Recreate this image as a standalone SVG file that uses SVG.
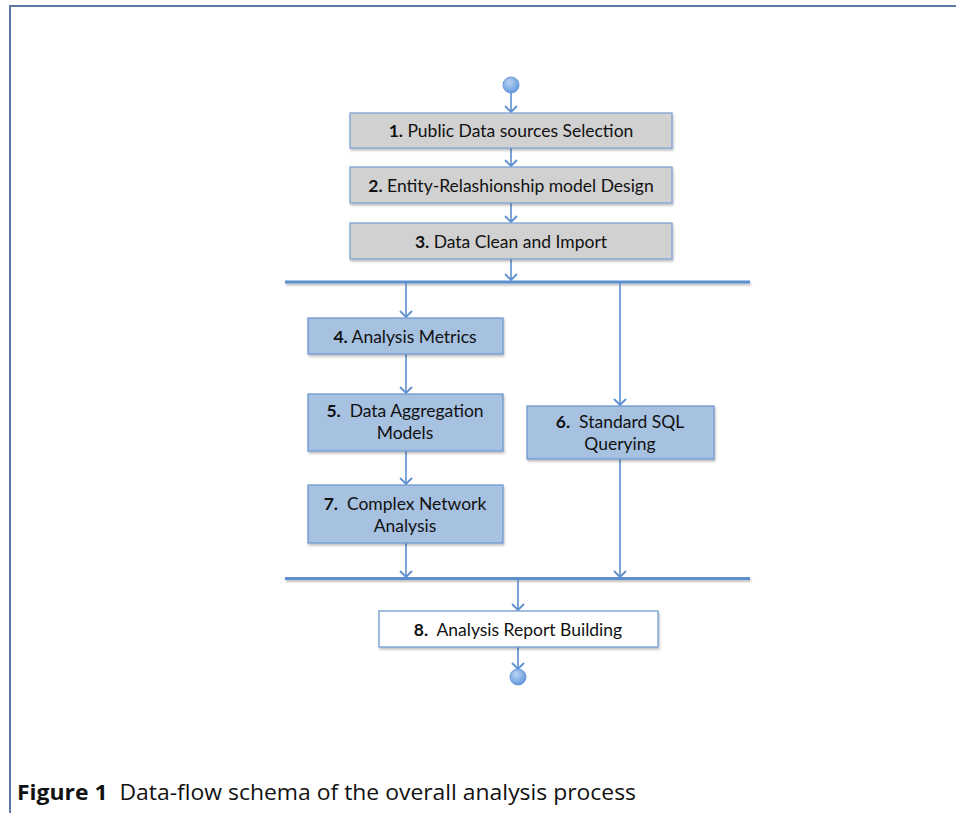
<svg xmlns="http://www.w3.org/2000/svg" width="956" height="813" viewBox="0 0 956 813">
<defs>
<marker id="ah" markerWidth="10" markerHeight="14" refX="8" refY="7" orient="auto" markerUnits="userSpaceOnUse" viewBox="0 0 10 14">
<path d="M2,1 L8,7 L2,13" fill="none" stroke="#5b8fcf" stroke-width="1.8"/>
</marker>
<filter id="sh" x="-10%" y="-50%" width="120%" height="250%">
<feDropShadow dx="1" dy="2" stdDeviation="1.2" flood-color="#000" flood-opacity="0.25"/>
</filter>
<radialGradient id="cg" cx="0.4" cy="0.35" r="0.7">
<stop offset="0" stop-color="#b9d3f3"/>
<stop offset="1" stop-color="#5e95dc"/>
</radialGradient>
</defs>
<style>
.frame{fill:none;stroke:#5b79a6;stroke-width:2}
.gray{fill:#d1d1d1;stroke:#7fa3d3;stroke-width:1.3;filter:url(#sh)}
.blue{fill:#a7c1e1;stroke:#6f9ad0;stroke-width:1.3;filter:url(#sh)}
.white{fill:#ffffff;stroke:#6f9ad0;stroke-width:1.3;filter:url(#sh)}
.lbl{font-family:Lato,"Open Sans","Liberation Sans",sans-serif;font-size:17.5px;fill:#111;text-anchor:middle;white-space:pre}
.b{font-weight:bold}
.c{fill:none;stroke:#5b8fcf;stroke-width:1.6;marker-end:url(#ah)}
.bar{fill:#5b8fcf;filter:url(#sh)}
.cap{font-family:"Open Sans","Liberation Sans",sans-serif;font-size:22px;fill:#111;white-space:pre}
</style>
<rect width="956" height="813" fill="#fff"/>
<path class="frame" d="M10,813 V6 H956"/>

<g id="connectors">
<line class="c" x1="511" y1="93" x2="511" y2="112"/>
<line class="c" x1="511" y1="148" x2="511" y2="166"/>
<line class="c" x1="511" y1="203" x2="511" y2="222"/>
<line class="c" x1="511" y1="259" x2="511" y2="280"/>
<rect class="bar" x="285" y="280.5" width="465" height="3"/>
<line class="c" x1="406" y1="283" x2="406" y2="317"/>
<line class="c" x1="406" y1="354" x2="406" y2="393"/>
<line class="c" x1="406" y1="451" x2="406" y2="484"/>
<line class="c" x1="406" y1="543" x2="406" y2="577"/>
<line class="c" x1="620" y1="283" x2="620" y2="405"/>
<line class="c" x1="620" y1="459" x2="620" y2="577"/>
<rect class="bar" x="285" y="577" width="465" height="3"/>
<line class="c" x1="518" y1="580" x2="518" y2="610"/>
<line class="c" x1="518" y1="647" x2="518" y2="669"/>
</g>

<g id="start"><circle cx="511" cy="85" r="8" fill="url(#cg)" stroke="#6d9ad6" stroke-width="1"/></g>

<g id="n1"><rect class="gray" x="350" y="113" width="322" height="35"/>
<text class="lbl" x="511" y="137"><tspan class="b">1.</tspan> Public Data sources Selection</text></g>

<g id="n2"><rect class="gray" x="350" y="167" width="322" height="36"/>
<text class="lbl" x="511" y="192"><tspan class="b">2.</tspan> Entity-Relashionship model Design</text></g>

<g id="n3"><rect class="gray" x="350" y="223" width="322" height="36"/>
<text class="lbl" x="511" y="248"><tspan class="b">3.</tspan> Data Clean and Import</text></g>

<g id="n4"><rect class="blue" x="308" y="318" width="195" height="36"/>
<text class="lbl" x="405" y="343"><tspan class="b">4.</tspan> Analysis Metrics</text></g>

<g id="n5"><rect class="blue" x="308" y="394" width="195" height="57"/>
<text class="lbl" x="405" y="417"><tspan class="b">5.</tspan>  Data Aggregation</text>
<text class="lbl" x="405" y="439">Models</text></g>

<g id="n6"><rect class="blue" x="527" y="406" width="187" height="53"/>
<text class="lbl" x="620" y="428"><tspan class="b">6.</tspan>  Standard SQL</text>
<text class="lbl" x="620" y="450">Querying</text></g>

<g id="n7"><rect class="blue" x="308" y="485" width="195" height="58"/>
<text class="lbl" x="405" y="510"><tspan class="b">7.</tspan>  Complex Network</text>
<text class="lbl" x="405" y="532">Analysis</text></g>

<g id="n8"><rect class="white" x="379" y="611" width="279" height="36"/>
<text class="lbl" x="518" y="636"><tspan class="b">8.</tspan>  Analysis Report Building</text></g>

<g id="end"><circle cx="518" cy="677" r="8" fill="url(#cg)" stroke="#6d9ad6" stroke-width="1"/></g>

<text class="cap" x="17" y="800" textLength="619" lengthAdjust="spacingAndGlyphs"><tspan font-weight="bold">Figure 1</tspan>  Data-flow schema of the overall analysis process</text>
</svg>
